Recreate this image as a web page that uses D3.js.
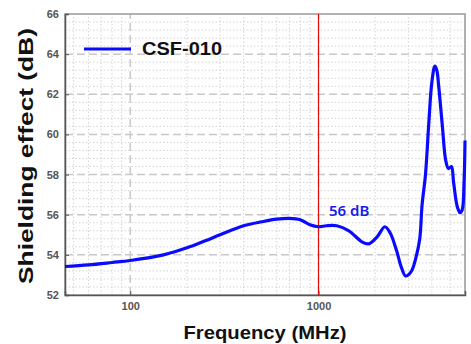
<!DOCTYPE html>
<html>
<head>
<meta charset="utf-8">
<script src="https://cdn.jsdelivr.net/npm/d3@7"></script>
<style>
  body { margin: 0; background: #fff; }
  svg { display: block; font-family: Arial, "Liberation Sans", sans-serif; }
</style>
</head>
<body>
<div id="chart"></div>
<script>
// data
const freqs = [45, 60, 80, 100, 150, 200, 250, 300, 400, 500, 600, 700, 800, 900,
    1000, 1100, 1250, 1450, 1700, 1850, 2050, 2250, 2400, 2600, 2750, 2900, 3100,
    3300, 3450, 3550, 3700, 3850, 4000, 4150, 4250, 4350, 4550, 4740, 4900, 5080,
    5220, 5460, 5650, 5800, 5930, 6000];
const shielding = [53.42, 53.5, 53.62, 53.72, 54.0, 54.35, 54.7, 55.0, 55.45, 55.65,
    55.78, 55.82, 55.75, 55.5, 55.4, 55.45, 55.45, 55.2, 54.65, 54.55, 54.9, 55.4,
    55.1, 54.2, 53.4, 52.95, 53.15, 53.9, 54.8, 56.5, 58.0, 60.5, 62.6, 63.4, 63.2,
    62.4, 60.4, 58.7, 58.3, 58.4, 57.6, 56.4, 56.1, 56.25, 57.6, 59.7];
const yTicks = [52, 54, 56, 58, 60, 62, 64, 66];
const xTickLabels = [100, 1000];
const seriesName = "CSF-010";
const markerFreq = 1000;
const markerLabel = "56 dB";

const width = 471, height = 344;
const margin = {top: 14, right: 6, bottom: 49, left: 65};

const svg = d3.select("#chart").append("svg")
    .attr("width", width)
    .attr("height", height);

const x = d3.scaleLog().domain([45, 6000]).range([margin.left, width - margin.right]);
const y = d3.scaleLinear().domain([52, 66]).range([height - margin.bottom, margin.top]);

// grid
const grid = svg.append("g");
const minorY = d3.range(52, 66.01, 0.4).filter(v => Math.abs(v / 2 - Math.round(v / 2)) > 0.01);
grid.selectAll(".ym").data(minorY).join("line")
    .attr("x1", x.range()[0]).attr("x2", x.range()[1])
    .attr("y1", d => y(d)).attr("y2", d => y(d))
    .attr("stroke", "#d4d4d4").attr("stroke-dasharray", "1.5,2");
const minorX = x.ticks().filter(d => !xTickLabels.includes(d));
grid.selectAll(".xm").data(minorX).join("line")
    .attr("x1", d => x(d)).attr("x2", d => x(d))
    .attr("y1", y.range()[0]).attr("y2", y.range()[1])
    .attr("stroke", "#d4d4d4").attr("stroke-dasharray", "1.5,2");
grid.selectAll(".yM").data(yTicks.slice(1, -1)).join("line")
    .attr("x1", x.range()[0]).attr("x2", x.range()[1])
    .attr("y1", d => y(d)).attr("y2", d => y(d))
    .attr("stroke", "#c8c8c8").attr("stroke-width", 1.5).attr("stroke-dasharray", "8,4");
grid.selectAll(".xM").data(xTickLabels).join("line")
    .attr("x1", d => x(d)).attr("x2", d => x(d))
    .attr("y1", y.range()[0]).attr("y2", y.range()[1])
    .attr("stroke", "#c8c8c8").attr("stroke-width", 1.5).attr("stroke-dasharray", "8,4");

// frame
svg.append("rect")
    .attr("x", margin.left).attr("y", margin.top)
    .attr("width", x.range()[1] - margin.left)
    .attr("height", y.range()[0] - margin.top)
    .attr("fill", "none").attr("stroke", "#999").attr("stroke-width", 1.5);

// axes (ticks point inward)
const yAxis = svg.append("g")
    .attr("transform", `translate(${margin.left},0)`)
    .call(d3.axisLeft(y).tickValues(yTicks).tickSize(-4).tickPadding(6).tickFormat(d3.format("d")));
const xAxis = svg.append("g")
    .attr("transform", `translate(0,${y.range()[0]})`)
    .call(d3.axisBottom(x).tickValues(xTickLabels).tickSize(-4).tickPadding(7).tickFormat(d3.format("d")));
[yAxis, xAxis].forEach(a => {
    a.select(".domain").attr("stroke", "#555").attr("stroke-width", 1.5);
    a.selectAll(".tick line").attr("stroke", "#555");
    a.selectAll("text").attr("fill", "#555")
        .style("font-size", "11px").style("font-weight", "bold");
});

// marker line at 1 GHz
svg.append("line")
    .attr("x1", x(markerFreq)).attr("x2", x(markerFreq))
    .attr("y1", y.range()[0]).attr("y2", y.range()[1])
    .attr("stroke", "#e01010").attr("stroke-width", 1.2);

// curve
const pts = freqs.map((f, i) => [f, shielding[i]]);
svg.append("path")
    .datum(pts)
    .attr("fill", "none")
    .attr("stroke", "#0a0aff")
    .attr("stroke-width", 3.2)
    .attr("stroke-linejoin", "round")
    .attr("d", d3.line().x(d => x(d[0])).y(d => y(d[1])).curve(d3.curveCatmullRom));

svg.append("text")
    .attr("x", 329).attr("y", 216)
    .attr("fill", "#1a1aee")
    .style("font-size", "15px").style("font-weight", "600")
    .style("font-family", "'Noto Sans', sans-serif")
    .text(markerLabel);

// legend
svg.append("line")
    .attr("x1", 84).attr("x2", 131).attr("y1", 49).attr("y2", 49)
    .attr("stroke", "#0a0aff").attr("stroke-width", 3.2);
svg.append("text")
    .attr("x", 142).attr("y", 55)
    .attr("fill", "#111")
    .attr("textLength", 80).attr("lengthAdjust", "spacingAndGlyphs")
    .style("font-size", "19px").style("font-weight", "bold")
    .text(seriesName);

// axis titles
svg.append("text")
    .attr("transform", "translate(33,156) rotate(-90)")
    .attr("text-anchor", "middle")
    .attr("fill", "#111")
    .attr("textLength", 256).attr("lengthAdjust", "spacingAndGlyphs")
    .style("font-size", "20px").style("font-weight", "bold")
    .text("Shielding effect (dB)");
svg.append("text")
    .attr("x", 265).attr("y", 339)
    .attr("text-anchor", "middle")
    .attr("fill", "#111")
    .attr("textLength", 163).attr("lengthAdjust", "spacingAndGlyphs")
    .style("font-size", "18px").style("font-weight", "bold")
    .text("Frequency (MHz)");
</script>
</body>
</html>
